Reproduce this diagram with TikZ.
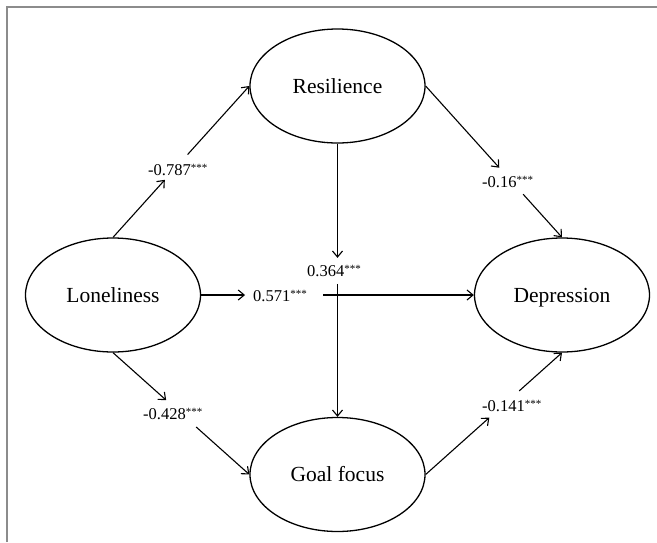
\documentclass[tikz,border=0pt]{standalone}
\usepackage{fontspec}
\setmainfont{Liberation Serif}
\usepackage{xcolor}
\usetikzlibrary{arrows.meta, shapes.geometric, calc}
\definecolor{framegray}{HTML}{8C8C8C}
\newcommand{\sig}{\raisebox{4pt}{\fontsize{11}{11}\selectfont ***}}

\begin{document}
\begin{tikzpicture}[
  x=1pt, y=-1pt,
  latent/.style={ellipse, draw, line width=1.3pt, minimum width=175pt,
                 minimum height=114pt, inner sep=0pt, text height=14pt, text depth=0pt,
                 font=\fontsize{21.5}{24}\selectfont},
  arrow/.style={-{Straight Barb[length=6pt, width=10pt]}, line width=1.1pt},
  coef/.style={anchor=base west, inner sep=0pt, font=\fontsize{16.5}{18}\selectfont},
  frameline/.style={draw=framegray, line width=2pt}
]
  \useasboundingbox (0,0) rectangle (657,542);
  \draw[frameline] (7,542) -- (7,7) -- (657,7);

  \node[latent] (resil) at (337.5,86)    {Resilience};
  \node[latent] (lone)  at (113,295)     {Loneliness};
  \node[latent] (depr)  at (562,295)     {Depression};
  \node[latent] (goal)  at (337.5,474.5) {Goal focus};

  \node[coef] (c787) at (148,175) {-0.787\sig};
  \node[coef] (c16)  at (482,187) {-0.16\sig};
  \node[coef] (c571) at (253,301) {0.571\sig};
  \node[coef] (c364) at (307,276) {0.364\sig};
  \node[coef] (c428) at (143,419) {-0.428\sig};
  \node[coef] (c141) at (482,411) {-0.141\sig};

  \draw[arrow] (lone.north) -- ($(lone.north)!0.38!(resil.west)$);
  \draw[arrow] ($(lone.north)!0.547!(resil.west)$) -- (resil.west);
  \draw[arrow] (resil.east) -- ($(resil.east)!0.54!(depr.north)$);
  \draw[arrow] ($(resil.east)!0.715!(depr.north)$) -- (depr.north);
  \draw[arrow] (lone.south) -- ($(lone.south)!0.39!(goal.west)$);
  \draw[arrow] ($(lone.south)!0.61!(goal.west)$) -- (goal.west);
  \draw[arrow] (goal.east) -- ($(goal.east)!0.467!(depr.south)$);
  \draw[arrow] ($(goal.east)!0.686!(depr.south)$) -- (depr.south);
  \draw[arrow] (lone.east) -- ($(lone.east)!0.161!(depr.west)$);
  \draw[arrow] ($(lone.east)!0.447!(depr.west)$) -- (depr.west);
  \draw[arrow] (resil.south) -- ($(resil.south)!0.418!(goal.north)$);
  \draw[arrow] ($(resil.south)!0.513!(goal.north)$) -- (goal.north);
\end{tikzpicture}
\end{document}
